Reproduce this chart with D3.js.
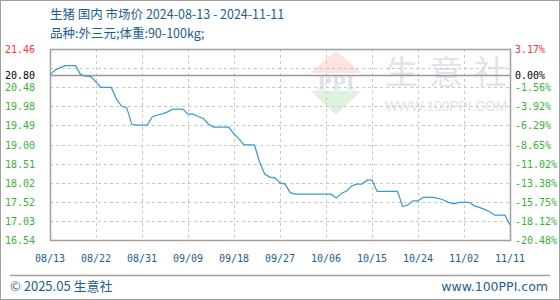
<!DOCTYPE html>
<html>
<head>
<meta charset="utf-8">
<script src="https://cdn.jsdelivr.net/npm/d3@7"></script>
<style>
  body { margin: 0; background: #fff; }
  svg { display: block; }
</style>
</head>
<body>
<div id="chart"></div>
<script>
///// Data

let titleText = "生猪 国内 市场价 2024-08-13 - 2024-11-11";
let subText = "品种:外三元;体重:90-100kg;";

let startDate = "2024-08-13";
let endDate = "2024-11-11";

// daily price, 2024-08-13 .. 2024-11-11 (yuan/kg)
let prices = [
  20.80, 20.92, 20.98, 21.03, 21.03, 21.03, 20.80, 20.76, 20.75, 20.61,
  20.47, 20.47, 20.47, 20.17, 19.99, 19.95, 19.52, 19.50, 19.50, 19.50,
  19.71, 19.76, 19.79, 19.84, 19.91, 19.91, 19.91, 19.78, 19.78, 19.72,
  19.67, 19.53, 19.45, 19.45, 19.45, 19.45, 19.27, 19.14, 18.99, 18.99,
  18.99, 18.55, 18.24, 18.16, 18.14, 18.01, 17.98, 17.76, 17.72, 17.72,
  17.72, 17.72, 17.72, 17.72, 17.72, 17.72, 17.62, 17.74, 17.80, 17.93,
  17.98, 17.98, 18.08, 18.08, 17.79, 17.79, 17.79, 17.79, 17.79, 17.40,
  17.44, 17.55, 17.55, 17.64, 17.64, 17.64, 17.61, 17.57, 17.51, 17.47,
  17.51, 17.51, 17.51, 17.42, 17.38, 17.33, 17.27, 17.18, 17.18, 17.18,
  16.93
];

let baseValue = 20.80;

let gridValues = [21.46, 20.968, 20.476, 19.984, 19.492, 19.00, 18.508, 18.016, 17.524, 17.032, 16.54];
let leftLabels = ["21.46", "", "20.48", "19.98", "19.49", "19.00", "18.51", "18.02", "17.52", "17.03", "16.54"];
let rightLabels = ["3.17%", "", "-1.56%", "-3.92%", "-6.29%", "-8.65%", "-11.02%", "-13.38%", "-15.75%", "-18.12%", "-20.48%"];

let tickLabels = ["08/13", "08/22", "08/31", "09/09", "09/18", "09/27", "10/06", "10/15", "10/24", "11/02", "11/11"];

///// Layout

let W = 560, H = 300;
let plot = { left: 50, right: 510, top: 49, bottom: 240 };

let blue = "#1b5e95";
let red = "#ff3333";
let green = "#33b433";
let mono = "'DejaVu Sans Mono', monospace";
let sans = "'Noto Sans CJK SC', 'DejaVu Sans', sans-serif";

let parse = d3.timeParse("%Y-%m-%d");
let t0 = parse(startDate);
let data = prices.map(function(v, i) { return { date: d3.timeDay.offset(t0, i), value: v }; });
let tickDates = tickLabels.map(function(s, i) { return d3.timeDay.offset(t0, i * 9); });

let x = d3.scaleTime().domain([t0, parse(endDate)]).range([plot.left, plot.right]);
let y = d3.scaleLinear().domain([16.54, 21.46]).range([plot.bottom, plot.top]);

let svg = d3.select("#chart").append("svg")
  .attr("width", W).attr("height", H);

// outer frame
svg.append("rect")
  .attr("x", 0.5).attr("y", 0.5).attr("width", W - 1).attr("height", H - 1)
  .attr("fill", "#fff").attr("stroke", "#a0a0a0");

// title
svg.append("text").attr("x", 50).attr("y", 19)
  .attr("font-family", sans).attr("font-size", 12.5).attr("fill", blue)
  .text(titleText);
svg.append("text").attr("x", 50).attr("y", 38)
  .attr("font-family", sans).attr("font-size", 12.5).attr("fill", blue)
  .text(subText);

// watermark
let wm = svg.append("g").attr("class", "watermark");
wm.append("path")
  .attr("d", "M310,73 L336,51 L362,73 Z").attr("fill", "#fbe3e0");
wm.append("path")
  .attr("d", "M311,91 L336,115 L361,91 Z").attr("fill", "#dff2e0");
wm.append("text").attr("x", 336).attr("y", 90).attr("text-anchor", "middle")
  .attr("font-family", "'DejaVu Serif', serif").attr("font-weight", "bold")
  .attr("font-size", 19).attr("fill", "#dce4f0")
  .text("PPI");
wm.append("text").attr("x", 385).attr("y", 84)
  .attr("font-family", sans).attr("font-size", 33).attr("fill", "#dfe4ed")
  .attr("textLength", 122).attr("lengthAdjust", "spacing")
  .text("生意社");
wm.append("text").attr("x", 385).attr("y", 111)
  .attr("font-family", "'Liberation Sans', sans-serif").attr("font-size", 14).attr("fill", "#e4e4e4")
  .attr("textLength", 122).attr("lengthAdjust", "spacingAndGlyphs")
  .text("WWW.100PPI.COM");

// grid
let grid = svg.append("g").attr("class", "grid")
  .attr("stroke", "#c8c8c8").attr("stroke-dasharray", "3,3").attr("shape-rendering", "crispEdges");

grid.selectAll(".hgrid")
  .data(gridValues.slice(1, -1))
  .enter().append("line")
  .attr("x1", plot.left).attr("x2", plot.right)
  .attr("y1", function(d) { return Math.round(y(d)) + 0.5; })
  .attr("y2", function(d) { return Math.round(y(d)) + 0.5; });

grid.selectAll(".vgrid")
  .data(tickDates.slice(1, -1))
  .enter().append("line")
  .attr("y1", plot.top).attr("y2", plot.bottom)
  .attr("x1", function(d) { return Math.round(x(d)) + 0.5; })
  .attr("x2", function(d) { return Math.round(x(d)) + 0.5; });

// base line at the start value
svg.append("line")
  .attr("x1", plot.left).attr("x2", plot.right)
  .attr("y1", Math.round(y(baseValue)) + 0.5).attr("y2", Math.round(y(baseValue)) + 0.5)
  .attr("stroke", "#999").attr("stroke-width", 1.5);

// plot frame
svg.append("rect")
  .attr("x", plot.left + 0.5).attr("y", plot.top + 0.5)
  .attr("width", plot.right - plot.left).attr("height", plot.bottom - plot.top)
  .attr("fill", "none").attr("stroke", "#a0a0a0").attr("stroke-width", 1.5);

// price line
let valueline = d3.line()
  .x(function(d) { return x(d.date); })
  .y(function(d) { return y(d.value); });

svg.append("path")
  .datum(data)
  .attr("fill", "none")
  .attr("stroke", "#3a99d8")
  .attr("stroke-width", 1.2)
  .attr("d", valueline);

// left axis labels
function labelColor(i) { return i === 0 ? red : green; }

svg.selectAll(".ylab")
  .data(gridValues)
  .enter().append("text")
  .attr("x", 5)
  .attr("y", function(d) { return y(d) + 4; })
  .attr("font-family", mono).attr("font-size", 10)
  .attr("fill", function(d, i) { return labelColor(i); })
  .text(function(d, i) { return leftLabels[i]; });

svg.append("text")
  .attr("x", 5).attr("y", y(baseValue) + 4)
  .attr("font-family", mono).attr("font-size", 10).attr("fill", "#000")
  .text(baseValue.toFixed(2));

// right axis labels
svg.selectAll(".rlab")
  .data(gridValues)
  .enter().append("text")
  .attr("x", 515)
  .attr("y", function(d) { return y(d) + 4; })
  .attr("font-family", mono).attr("font-size", 10)
  .attr("fill", function(d, i) { return labelColor(i); })
  .text(function(d, i) { return rightLabels[i]; });

svg.append("text")
  .attr("x", 515).attr("y", y(baseValue) + 4)
  .attr("font-family", mono).attr("font-size", 10).attr("fill", "#000")
  .text("0.00%");

// x axis labels
svg.selectAll(".xlab")
  .data(tickDates)
  .enter().append("text")
  .attr("x", function(d) { return x(d); })
  .attr("y", 262)
  .attr("text-anchor", "middle")
  .attr("font-family", mono).attr("font-size", 10).attr("fill", blue)
  .text(function(d, i) { return tickLabels[i]; });

// footer
svg.append("line")
  .attr("x1", 10).attr("x2", 550).attr("y1", 275.5).attr("y2", 275.5)
  .attr("stroke", "#a0a0a0").attr("stroke-width", 1.5);

svg.append("text").attr("x", 10).attr("y", 291)
  .attr("font-family", sans).attr("font-size", 13).attr("fill", blue)
  .text("© 2025.05 生意社");

svg.append("text").attr("x", 548).attr("y", 291)
  .attr("text-anchor", "end")
  .attr("font-family", "'DejaVu Sans', sans-serif").attr("font-size", 12.5).attr("fill", blue)
  .text("www.100PPI.com");
</script>
</body>
</html>
